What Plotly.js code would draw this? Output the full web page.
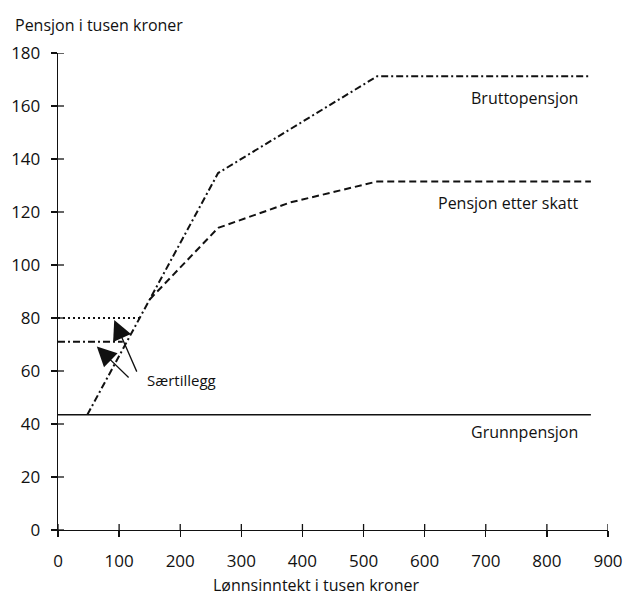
<!DOCTYPE html>
<html>
<head>
<meta charset="utf-8">
<script src="https://cdn.plot.ly/plotly-3.0.1.min.js"></script>
<style>html,body{margin:0;padding:0;background:#fff;}#chart{width:625px;height:598px;}</style>
</head>
<body>
<div id="chart"></div>
<script>
// Data (tusen kroner)
const xTicks = [0, 100, 200, 300, 400, 500, 600, 700, 800, 900];
const yTicks = [0, 20, 40, 60, 80, 100, 120, 140, 160, 180];

const grunnX = [0, 872];
const grunnY = [43.5, 43.5];

const bruttoX = [48, 262, 522, 872];
const bruttoY = [43.5, 134.7, 171.2, 171.2];

const etterSkattX = [150, 262, 380, 522, 872];
const etterSkattY = [87, 114, 123.6, 131.5, 131.5];

const minBruttoX = [0, 133];
const minBruttoY = [80, 80];

const minNettoX = [0, 106];
const minNettoY = [71, 71];

const FONT = 'Open Sans, Noto Sans, sans-serif';
const INK = '#111';

const traces = [
  {x: grunnX, y: grunnY, mode: 'lines', line: {color: INK, width: 1.3}, hoverinfo: 'skip'},
  {x: bruttoX, y: bruttoY, mode: 'lines', line: {color: INK, width: 2, dash: '7px,3px,2px,3px'}, hoverinfo: 'skip'},
  {x: etterSkattX, y: etterSkattY, mode: 'lines', line: {color: INK, width: 2, dash: '7px,4px'}, hoverinfo: 'skip'},
  {x: minBruttoX, y: minBruttoY, mode: 'lines', line: {color: INK, width: 2, dash: '2px,3px'}, hoverinfo: 'skip'},
  {x: minNettoX, y: minNettoY, mode: 'lines', line: {color: INK, width: 2, dash: '7px,3px,2px,3px'}, hoverinfo: 'skip'}
];

const axisCommon = {
  showgrid: false, zeroline: false, linecolor: INK, linewidth: 1.3,
  tickcolor: INK, tickwidth: 1.3, ticklen: 6, ticks: 'outside',
  tickfont: {family: FONT, size: 17, color: INK}, tickmode: 'array', fixedrange: true
};

// inner half of the crossing tick marks, placed through the axis scales
const INNER = 6;
const tickShapes = [];
xTicks.forEach(v => tickShapes.push({type: 'line', xref: 'x', yref: 'y', ysizemode: 'pixel', yanchor: 0,
  x0: v, x1: v, y0: 0, y1: INNER, line: {color: INK, width: 1.3}, layer: 'above'}));
yTicks.forEach(v => tickShapes.push({type: 'line', xref: 'x', yref: 'y', xsizemode: 'pixel', xanchor: 0,
  x0: 0, x1: INNER, y0: v, y1: v, line: {color: INK, width: 1.3}, layer: 'above'}));

const layout = {
  width: 625, height: 598,
  margin: {l: 58, r: 17, t: 53, b: 68},
  paper_bgcolor: '#fff', plot_bgcolor: '#fff',
  showlegend: false,
  xaxis: Object.assign({}, axisCommon, {range: [0, 900], tickvals: xTicks, ticktext: xTicks.map(String), showline: true, ticklabelstandoff: 9}),
  yaxis: Object.assign({}, axisCommon, {range: [0, 180], tickvals: yTicks, ticktext: yTicks.map(String), showline: true, ticklabelstandoff: 7}),
  shapes: tickShapes,
  annotations: [
    {xref: 'paper', yref: 'paper', x: -0.082, y: 1.059, xanchor: 'left', yanchor: 'middle', text: 'Pensjon i tusen kroner', showarrow: false, font: {family: FONT, size: 16, color: INK}},
    {xref: 'paper', yref: 'paper', x: 0.47, y: -0.115, xanchor: 'center', yanchor: 'middle', text: 'Lønnsinntekt i tusen kroner', showarrow: false, font: {family: FONT, size: 16, color: INK}},
    {x: 854, y: 163, xanchor: 'right', yanchor: 'middle', text: 'Bruttopensjon', showarrow: false, font: {family: FONT, size: 16, color: INK}},
    {x: 854, y: 123.4, xanchor: 'right', yanchor: 'middle', text: 'Pensjon etter skatt', showarrow: false, font: {family: FONT, size: 16, color: INK}},
    {x: 854, y: 37, xanchor: 'right', yanchor: 'middle', text: 'Grunnpensjon', showarrow: false, font: {family: FONT, size: 16, color: INK}},
    {x: 142, y: 56.6, xanchor: 'left', yanchor: 'middle', text: 'Særtillegg', showarrow: false, font: {family: FONT, size: 15, color: INK}},
    {x: 92, y: 79.2, ax: 130, ay: 59.2, axref: 'x', ayref: 'y', text: '', showarrow: true, arrowhead: 2, arrowsize: 3, arrowwidth: 1.3, arrowcolor: INK},
    {x: 63.5, y: 69.2, ax: 118, ay: 57, axref: 'x', ayref: 'y', text: '', showarrow: true, arrowhead: 2, arrowsize: 3, arrowwidth: 1.3, arrowcolor: INK}
  ]
};

Plotly.newPlot('chart', traces, layout, {staticPlot: true, displayModeBar: false});
</script>
</body>
</html>
